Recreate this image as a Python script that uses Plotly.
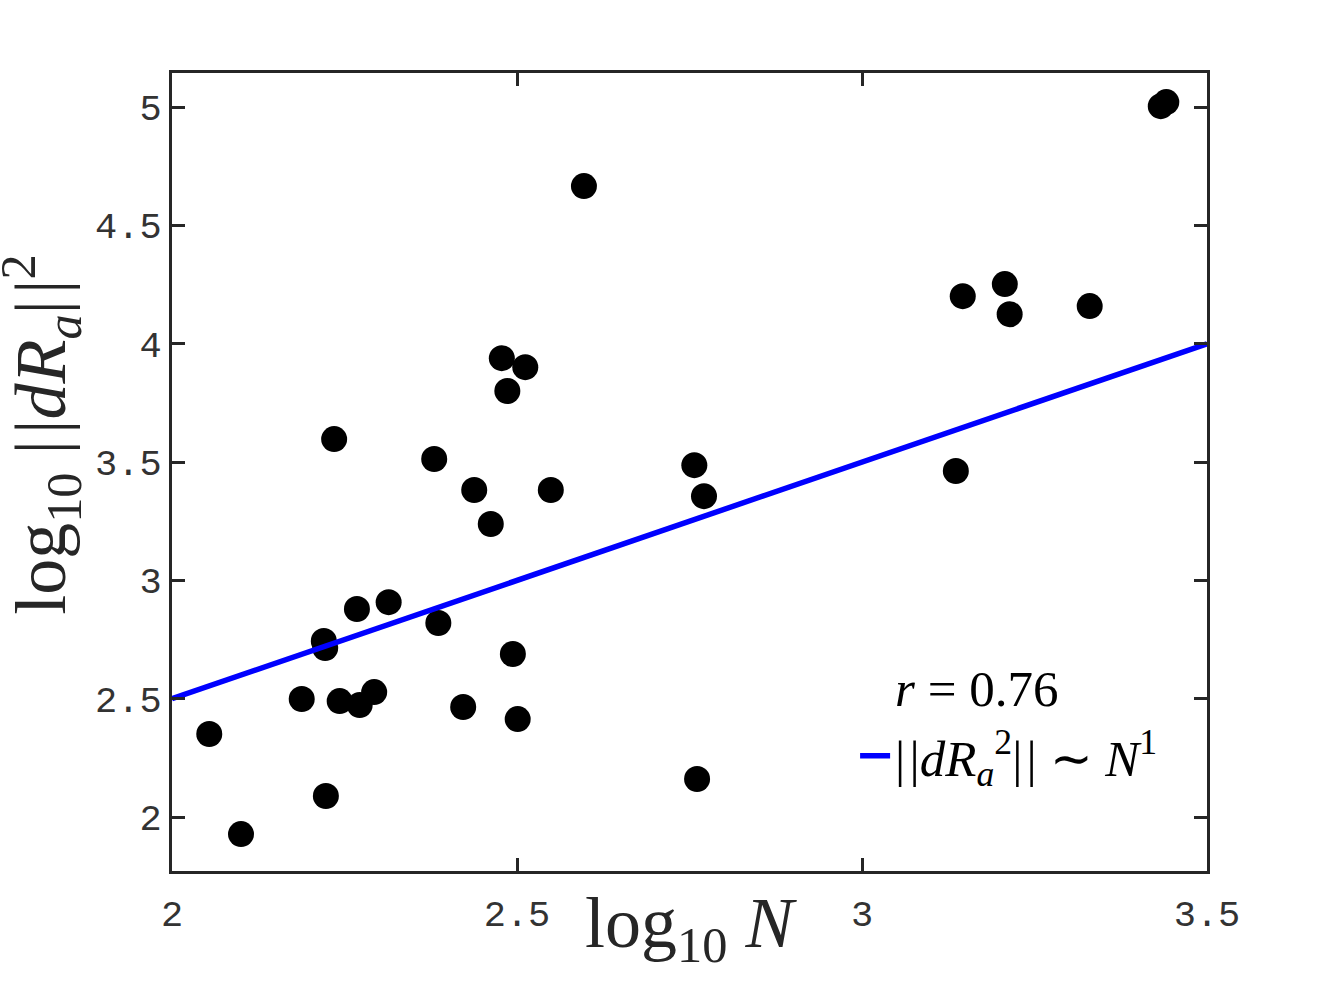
import plotly.graph_objects as go

# Scatter data (log10 N, log10 ||dR_a||^2)
log_n = [2.054, 2.100, 2.188, 2.220, 2.222, 2.223, 2.235, 2.243, 2.268, 2.272,
         2.293, 2.314, 2.380, 2.386, 2.422, 2.438, 2.462, 2.478, 2.486, 2.494,
         2.501, 2.512, 2.549, 2.597, 2.757, 2.761, 2.771, 3.136, 3.146, 3.207,
         3.214, 3.330, 3.433, 3.441]
log_dr = [2.351, 1.928, 2.499, 2.744, 2.714, 2.089, 3.597, 2.490, 2.879, 2.473,
          2.528, 2.908, 3.513, 2.820, 2.465, 3.382, 3.238, 3.939, 3.800, 2.689,
          2.414, 3.901, 3.382, 4.666, 3.487, 2.161, 3.356, 3.462, 4.201, 4.252,
          4.125, 4.159, 5.004, 5.021]

# Reference line ||dR_a^2|| ~ N^1
fit_x = [2.0, 3.5]
fit_y = [2.5, 4.0]

r_label = "<i>r</i>&#8197;=&#8197;0.76"
fit_label = "|&#8202;|<i>dR</i><sub><i>a</i></sub><sup>2</sup>|&#8202;|&#8197;∼&#8197;<i>N</i><sup>1</sup>"

x_ticks = [2, 2.5, 3, 3.5]
x_ticktext = ["2", "2.5", "3", "3.5"]
y_ticks = [2, 2.5, 3, 3.5, 4, 4.5, 5]
y_ticktext = ["2", "2.5", "3", "3.5", "4", "4.5", "5"]

axis_col = "#262626"
serif = "Liberation Serif, Times New Roman, serif"
mono = "Liberation Mono, Courier New, monospace"

fig = go.Figure()
fig.add_trace(go.Scatter(
    x=log_n, y=log_dr, mode="markers",
    marker=dict(color="black", size=26, line=dict(width=0)),
    showlegend=False,
))
# Legend text entry for the correlation coefficient (no symbol)
fig.add_trace(go.Scatter(
    x=[None], y=[None], mode="lines",
    line=dict(color="rgba(0,0,0,0)", width=0),
    name=r_label, showlegend=True,
))
fig.add_trace(go.Scatter(
    x=fit_x, y=fit_y, mode="lines",
    line=dict(color="#0000FF", width=5.5),
    name=fit_label,
))

axis_common = dict(
    showgrid=False, zeroline=False,
    showline=True, linecolor=axis_col, linewidth=3,
    mirror="allticks", ticks="inside", ticklen=13, tickwidth=3,
    tickcolor=axis_col,
    tickfont=dict(family=mono, size=37, color="#333333"),
)

fig.update_layout(
    width=1334, height=982,
    margin=dict(l=172, r=127, t=73, b=111),
    paper_bgcolor="white", plot_bgcolor="white",
    xaxis=dict(range=[2, 3.5], tickvals=x_ticks, ticktext=x_ticktext,
               ticklabelstandoff=8, **axis_common),
    yaxis=dict(range=[1.772, 5.144], tickvals=y_ticks, ticktext=y_ticktext,
               ticklabelstandoff=0, **axis_common),
    legend=dict(
        x=0.66, y=0.281, xanchor="left", yanchor="top",
        bgcolor="rgba(0,0,0,0)", borderwidth=0,
        font=dict(family=serif, size=51, color="black"),
        itemwidth=30,
    ),
    annotations=[
        dict(text="log<sub>10</sub> <i>N</i>", xref="paper", yref="paper",
             x=0.5014, y=-0.072, xanchor="center", yanchor="middle",
             showarrow=False, font=dict(family=serif, size=72, color=axis_col)),
        dict(text="log<sub>10</sub> |&#8202;|<i>dR</i><sub><i>a</i></sub>|&#8202;|<sup>2</sup>",
             xref="paper", yref="paper", x=-0.127, y=0.546,
             xanchor="center", yanchor="middle", textangle=-90,
             showarrow=False, font=dict(family=serif, size=72, color=axis_col)),
    ],
)

fig.write_html("out.html")
